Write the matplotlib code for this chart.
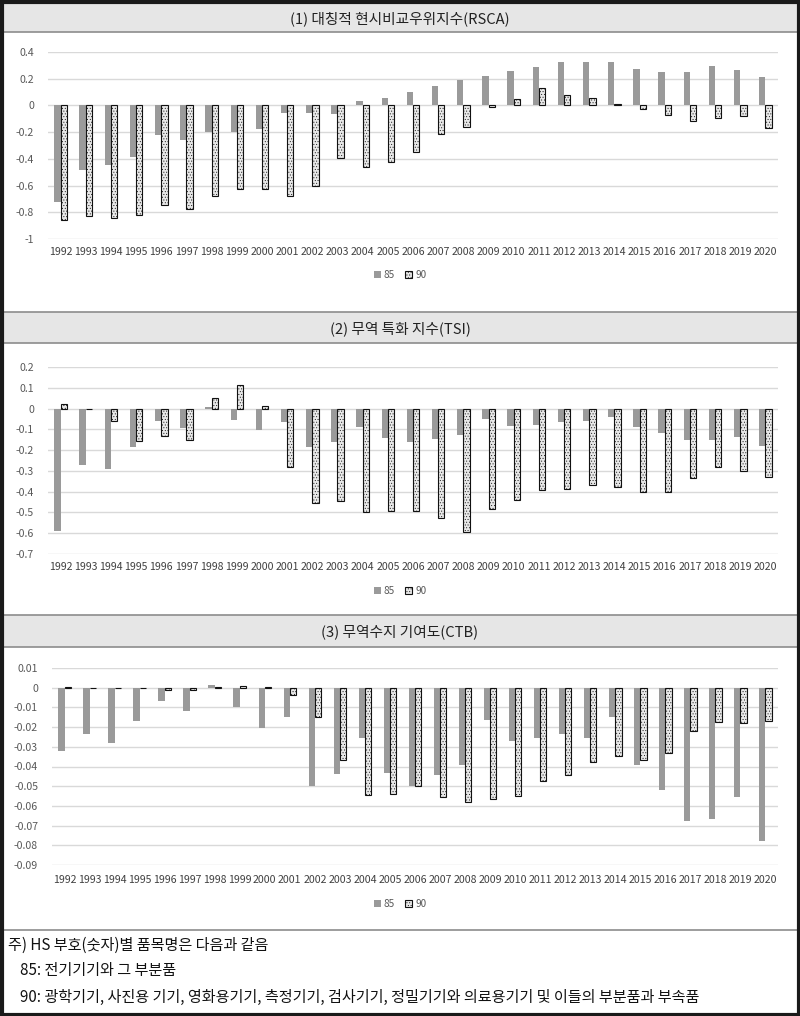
import matplotlib
matplotlib.use("Agg")
import matplotlib.pyplot as plt
from matplotlib.patches import Rectangle
import matplotlib.transforms as mtransforms
import numpy as np

plt.rcParams['font.family'] = ['Noto Sans CJK KR', 'DejaVu Sans']
plt.rcParams['hatch.linewidth'] = 0.35

years = list(range(1992, 2021))

rsca_85 = [-0.72, -0.48, -0.445, -0.383, -0.22, -0.26, -0.20, -0.20, -0.18, -0.055,
           -0.055, -0.067, 0.03, 0.055, 0.102, 0.142, 0.187, 0.224, 0.259, 0.284,
           0.323, 0.323, 0.323, 0.276, 0.251, 0.251, 0.296, 0.264, 0.211]
rsca_90 = [-0.856, -0.83, -0.846, -0.823, -0.746, -0.774, -0.68, -0.624, -0.624, -0.677,
           -0.604, -0.39, -0.463, -0.425, -0.348, -0.211, -0.159, -0.015, 0.045, 0.127,
           0.075, 0.055, 0.007, -0.027, -0.075, -0.114, -0.095, -0.082, -0.172]

tsi_85 = [-0.587, -0.272, -0.292, -0.187, -0.061, -0.094, 0.008, -0.053, -0.104, -0.066,
          -0.184, -0.163, -0.091, -0.141, -0.160, -0.145, -0.128, -0.05, -0.083, -0.078,
          -0.067, -0.061, -0.04, -0.09, -0.12, -0.153, -0.153, -0.137, -0.182]
tsi_90 = [0.024, -0.003, -0.058, -0.158, -0.133, -0.153, 0.053, 0.112, 0.011, -0.28,
          -0.455, -0.447, -0.50, -0.494, -0.494, -0.527, -0.593, -0.484, -0.438, -0.392,
          -0.387, -0.369, -0.379, -0.401, -0.401, -0.334, -0.281, -0.299, -0.329]

ctb_85 = [-0.0319, -0.0234, -0.0282, -0.017, -0.0068, -0.0119, 0.0013, -0.010, -0.0207, -0.0148,
          -0.0501, -0.0436, -0.0255, -0.0431, -0.050, -0.0441, -0.039, -0.0165, -0.0272, -0.0255,
          -0.0236, -0.0253, -0.0149, -0.039, -0.0518, -0.0676, -0.0666, -0.0553, -0.0778]
ctb_90 = [0.0002, -0.0003, -0.0003, -0.0003, -0.001, -0.0012, 0.0005, 0.001, 0.0003, -0.0039,
          -0.0151, -0.0367, -0.0543, -0.054, -0.0497, -0.0557, -0.058, -0.0567, -0.0548, -0.0472,
          -0.0445, -0.0379, -0.0346, -0.0365, -0.0333, -0.0221, -0.0173, -0.0178, -0.017]

titles = ["(1) 대칭적 현시비교우위지수(RSCA)", "(2) 무역 특화 지수(TSI)", "(3) 무역수지 기여도(CTB)"]
series_names = ["85", "90"]

rsca_ticks = [0.4, 0.2, 0, -0.2, -0.4, -0.6, -0.8, -1]
tsi_ticks = [0.2, 0.1, 0, -0.1, -0.2, -0.3, -0.4, -0.5, -0.6, -0.7]
ctb_ticks = [0.01, 0, -0.01, -0.02, -0.03, -0.04, -0.05, -0.06, -0.07, -0.08, -0.09]

footnote = ["주) HS 부호(숫자)별 품목명은 다음과 같음",
            "85: 전기기기와 그 부분품",
            "90: 광학기기, 사진용 기기, 영화용기기, 측정기기, 검사기기, 정밀기기와 의료용기기 및 이들의 부분품과 부속품"]

W, H = 800, 1016
fig = plt.figure(figsize=(W / 100, H / 100), dpi=100)
fig.patch.set_facecolor('white')

def fx(x):
    return x / W

def fy(y):
    return 1 - y / H

def rect(x0, y0, x1, y1, **kw):
    fig.patches.append(Rectangle((fx(x0), fy(y1)), fx(x1) - fx(x0), fy(y0) - fy(y1),
                                 transform=fig.transFigure, **kw))

def hline(y, x0, x1, color, lw):
    fig.add_artist(plt.Line2D([fx(x0), fx(x1)], [fy(y), fy(y)], color=color, lw=lw,
                              transform=fig.transFigure))

# title bands
bands = [(3, 32), (312, 343), (615, 647)]
for (y0, y1), t in zip(bands, titles):
    rect(3, y0, 797, y1, facecolor='#e6e6e6', edgecolor='none', zorder=0)
    hline(y0, 3, 797, '#8c8c8c', 1.2)
    hline(y1, 3, 797, '#8c8c8c', 1.2)
    fig.text(0.5, fy((y0 + y1) / 2 + 1), t, ha='center', va='center', fontsize=10.6,
             color='#222222')
hline(930, 3, 797, '#8c8c8c', 1.2)

# outer border
rect(1.5, 1.5, 798.5, 1014.5, facecolor='none', edgecolor='#1a1a1a', lw=3, zorder=10)

panels = [
    (rsca_85, rsca_90, rsca_ticks, (48, 778, 52, 239), 252, 275),
    (tsi_85, tsi_90, tsi_ticks, (48, 778, 367, 554), 567, 591),
    (ctb_85, ctb_90, ctb_ticks, (52, 778, 668, 865), 880, 904),
]

x = np.arange(len(years))
bw = 0.25
for s85, s90, ticks, (x0, x1, y0, y1), ylab, yleg in panels:
    ax = fig.add_axes([fx(x0), fy(y1), fx(x1) - fx(x0), fy(y0) - fy(y1)])
    ax.set_facecolor('none')
    ax.set_xlim(-0.5, len(years) - 0.5)
    ax.set_ylim(min(ticks), max(ticks))
    ax.set_yticks(ticks)
    ax.set_yticklabels([f"{t:g}" for t in ticks])
    ax.yaxis.grid(True, color='#d9d9d9', lw=1)
    ax.set_axisbelow(True)
    for sp in ax.spines.values():
        sp.set_visible(False)
    ax.tick_params(length=0, labelsize=7.6, colors='#595959')
    ax.tick_params(axis='y', pad=10)
    ax.set_xticks(x)
    ax.set_xticklabels([])
    b1 = ax.bar(x - bw / 2, s85, width=bw, color='#9a9a9a', edgecolor='none',
                label=series_names[0])
    b2 = ax.bar(x + bw / 2, s90, width=bw, facecolor='#e8e8e8', edgecolor='#111111',
                lw=0.8, hatch='......', label=series_names[1])
    tr = mtransforms.blended_transform_factory(ax.transData, fig.transFigure)
    for i, yv in enumerate(years):
        ax.text(i, fy(ylab), str(yv), transform=tr, ha='center', va='center',
                fontsize=7.6, color='#404040')
    leg = fig.legend([b1, b2], series_names, loc='center', bbox_to_anchor=(0.5, fy(yleg)),
                     ncol=2, frameon=False, fontsize=7.2, handlelength=0.7, handleheight=0.7,
                     handletextpad=0.3, columnspacing=1.0)
    for t in leg.get_texts():
        t.set_color('#595959')

# footnote
fs = 10.9
fig.text(fx(8), fy(945), footnote[0], ha='left', va='center', fontsize=fs, color='#111111')
fig.text(fx(20), fy(971), footnote[1], ha='left', va='center', fontsize=fs, color='#111111')
fig.text(fx(20), fy(997), footnote[2], ha='left', va='center', fontsize=fs, color='#111111')

fig.savefig('out.png', dpi=100, facecolor='white')
